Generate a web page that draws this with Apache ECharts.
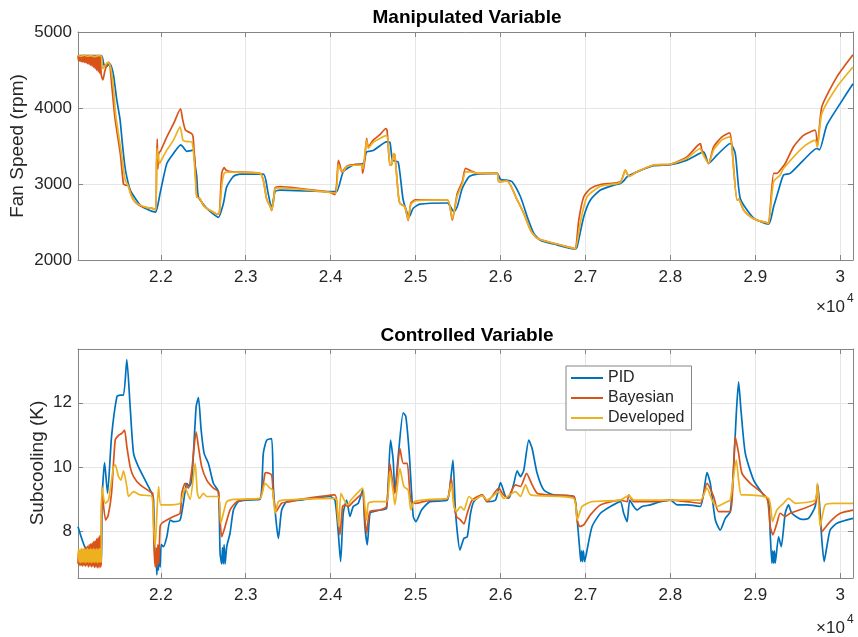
<!DOCTYPE html>
<html>
<head>
<meta charset="utf-8">
<script src="https://cdn.jsdelivr.net/npm/echarts@6/dist/echarts.min.js"></script>
<style>html,body{margin:0;padding:0;background:#fff}#c{width:858px;height:637px}</style>
</head>
<body>
<div id="c"></div>
<script>
// ---- data ----
const seriesNames = ['PID', 'Bayesian', 'Developed'];
const xTicks = [22000, 23000, 24000, 25000, 26000, 27000, 28000, 29000, 30000];
const fanTicks = [2000, 3000, 4000, 5000];
const scTicks = [8, 10, 12];

const fanPID = [[21025,4690],[21300,4690],[21330,4570],[21360,4545],[21395,4580],[21420,4540],[21445,4420],[21480,4120],[21520,3850],[21545,3560],[21575,3250],[21600,3090],[21640,2920],[21700,2810],[21760,2720],[21835,2670],[21900,2640],[21940,2630],[21992,2880],[22071,3270],[22148,3400],[22235,3515],[22260,3490],[22306,3430],[22380,3445],[22404,3250],[22423,3100],[22443,2830],[22541,2680],[22600,2620],[22678,2560],[22737,2745],[22776,2963],[22855,3100],[22933,3130],[23207,3130],[23260,2900],[23305,2680],[23345,2900],[23403,2920],[23991,2900],[24070,2900],[24148,3160],[24266,3250],[24384,3270],[24423,3420],[24501,3440],[24658,3555],[24697,3550],[24728,3314],[24795,3290],[24854,2790],[24925,2570],[24972,2680],[25050,2735],[25373,2750],[25451,2635],[25490,2700],[25549,2940],[25628,3095],[25726,3130],[25961,3140],[26000,3060],[26078,3050],[26137,3030],[26235,2832],[26314,2570],[26392,2350],[26470,2260],[26627,2210],[26882,2145],[26902,2175],[26980,2570],[27058,2790],[27176,2920],[27333,2985],[27411,3007],[27450,3040],[27490,3095],[27607,3160],[27803,3240],[28000,3255],[28195,3314],[28391,3423],[28450,3270],[28548,3380],[28705,3533],[28764,3400],[28823,2810],[28980,2550],[29156,2473],[29215,2700],[29274,2920],[29332,3117],[29410,3140],[29567,3314],[29724,3467],[29755,3450],[29842,3774],[29999,4058],[30150,4320]];

const fanBayes = [[21025,4690],[21030,4620],[21039,4690],[21048,4615],[21057,4690],[21066,4610],[21075,4690],[21084,4605],[21093,4690],[21102,4600],[21111,4690],[21120,4595],[21129,4690],[21138,4585],[21147,4690],[21156,4575],[21165,4690],[21174,4565],[21183,4690],[21192,4550],[21201,4690],[21210,4535],[21219,4690],[21228,4515],[21237,4690],[21246,4495],[21255,4690],[21264,4475],[21273,4690],[21282,4455],[21290,4690],[21298,4440],[21318,4370],[21340,4480],[21365,4570],[21385,4600],[21400,4570],[21424,4280],[21463,3842],[21522,3408],[21560,3000],[21580,2987],[21619,2975],[21659,2833],[21700,2760],[21760,2710],[21835,2690],[21900,2680],[21940,2660],[21950,3300],[21958,3590],[21965,3200],[21975,3400],[22000,3440],[22071,3620],[22149,3790],[22232,3990],[22255,3860],[22290,3710],[22360,3665],[22380,3620],[22405,3200],[22425,2830],[22460,2810],[22500,2720],[22540,2680],[22600,2640],[22670,2600],[22690,2620],[22717,3140],[22745,3215],[22770,3180],[22850,3160],[23168,3140],[23207,3050],[23247,2800],[23290,2700],[23305,2650],[23330,2800],[23345,2950],[23403,2965],[23600,2945],[23991,2890],[24050,2860],[24070,3000],[24090,3310],[24109,3250],[24130,3160],[24188,3230],[24227,3250],[24364,3260],[24376,3140],[24400,3300],[24423,3600],[24443,3490],[24501,3577],[24580,3650],[24650,3730],[24665,3700],[24697,3250],[24717,3250],[24740,3400],[24756,3380],[24795,2875],[24815,2745],[24874,2700],[24913,2520],[24944,2745],[25000,2790],[25373,2790],[25432,2525],[25490,2875],[25549,3030],[25588,3205],[25647,3175],[25726,3140],[25961,3140],[25980,3030],[26078,3040],[26196,2790],[26274,2613],[26353,2394],[26431,2285],[26627,2220],[26862,2153],[26882,2145],[26921,2525],[26980,2832],[27058,2940],[27176,2994],[27411,3030],[27470,3183],[27510,3100],[27607,3160],[27803,3250],[28000,3260],[28195,3357],[28352,3530],[28370,3450],[28450,3270],[28509,3490],[28607,3620],[28697,3672],[28720,3550],[28784,2790],[28803,2800],[28862,2657],[28941,2570],[29019,2525],[29136,2490],[29156,2480],[29215,3140],[29254,3140],[29293,3183],[29352,3270],[29450,3490],[29567,3640],[29704,3708],[29731,3490],[29783,4015],[29960,4409],[30150,4700]];

const fanDev = [[21025,4690],[21060,4680],[21100,4695],[21140,4680],[21180,4690],[21220,4675],[21260,4690],[21300,4680],[21318,4520],[21377,4600],[21404,4560],[21440,4300],[21470,3900],[21530,3450],[21580,3050],[21610,2990],[21650,2850],[21700,2760],[21760,2720],[21835,2690],[21900,2680],[21940,2660],[21955,3470],[21968,3380],[21985,3270],[22000,3300],[22071,3445],[22149,3577],[22227,3752],[22260,3577],[22290,3560],[22365,3555],[22400,3200],[22423,2830],[22460,2810],[22500,2720],[22540,2680],[22600,2640],[22670,2600],[22690,2620],[22720,3000],[22745,3140],[22780,3155],[23168,3140],[23207,3050],[23247,2800],[23290,2700],[23305,2655],[23330,2800],[23345,2940],[23403,2950],[23600,2935],[23991,2890],[24060,2880],[24090,3260],[24109,3200],[24148,3160],[24188,3230],[24364,3250],[24380,3200],[24423,3577],[24443,3470],[24501,3550],[24658,3640],[24697,3250],[24717,3250],[24740,3400],[24756,3380],[24795,2875],[24815,2745],[24874,2700],[24913,2530],[24944,2730],[25000,2780],[25373,2790],[25432,2545],[25490,2840],[25549,3000],[25588,3160],[25647,3160],[25726,3140],[25961,3140],[25980,3030],[26078,3040],[26196,2790],[26274,2613],[26353,2394],[26431,2285],[26627,2220],[26862,2153],[26882,2145],[26941,2503],[27019,2832],[27176,2970],[27411,3020],[27470,3183],[27510,3100],[27607,3160],[27803,3250],[28000,3260],[28195,3340],[28352,3467],[28370,3420],[28450,3270],[28509,3450],[28607,3580],[28697,3620],[28720,3520],[28784,2790],[28803,2800],[28862,2657],[28941,2570],[29019,2525],[29136,2490],[29156,2480],[29215,3030],[29293,3117],[29332,3205],[29567,3490],[29704,3577],[29731,3490],[29783,3927],[29960,4277],[30150,4540]];

const scPID = [[21025,8.15],[21110,7.5],[21200,7.3],[21290,7.1],[21300,7.0],[21310,9.1],[21338,10.14],[21373,9.19],[21420,10.95],[21483,12.19],[21520,12.24],[21561,12.24],[21600,13.34],[21639,11.88],[21679,10.43],[21737,10.01],[21835,9.5],[21894,9.19],[21914,9.0],[21933,7.02],[21945,7.3],[21953,6.66],[21962,7.2],[21972,6.8],[21982,7.5],[21992,6.9],[22005,7.6],[22031,7.53],[22071,7.84],[22110,8.36],[22149,8.31],[22227,8.36],[22286,9.24],[22306,9.5],[22337,9.4],[22365,9.6],[22416,11.88],[22443,12.16],[22475,11.15],[22510,10.43],[22560,10.12],[22619,9.5],[22678,9.24],[22698,7.33],[22717,7.0],[22727,7.5],[22737,7.0],[22745,7.6],[22757,7.0],[22776,7.53],[22815,7.95],[22855,8.67],[22913,8.93],[23011,8.98],[23168,9.0],[23207,10.43],[23247,10.84],[23305,10.89],[23325,9.4],[23356,8.36],[23384,7.79],[23423,8.67],[23482,8.93],[23639,8.98],[23991,9.09],[24050,8.98],[24090,7.95],[24117,7.07],[24148,8.57],[24188,8.98],[24227,8.47],[24266,8.78],[24325,8.88],[24376,9.29],[24403,8.16],[24431,7.59],[24462,8.57],[24501,8.62],[24580,8.67],[24658,8.72],[24705,10.84],[24736,10.22],[24756,9.24],[24795,10.33],[24854,11.69],[24885,11.57],[24925,10.43],[24972,8.47],[25003,8.31],[25070,8.67],[25168,8.93],[25373,8.98],[25412,9.6],[25440,10.22],[25471,8.57],[25522,7.43],[25569,7.79],[25608,7.84],[25647,8.57],[25686,8.93],[25784,9.14],[25843,8.93],[25941,8.98],[26000,9.52],[26059,9.09],[26098,9.04],[26157,9.5],[26196,9.89],[26235,9.71],[26274,9.91],[26333,10.84],[26372,10.58],[26431,9.81],[26510,9.29],[26627,9.14],[26862,9.09],[26902,8.36],[26933,7.43],[26945,7.07],[26955,7.4],[26965,7.07],[26975,7.4],[26990,7.07],[27019,7.43],[27078,8.16],[27176,8.57],[27294,8.78],[27411,8.93],[27450,8.57],[27490,8.31],[27521,8.98],[27568,8.78],[27607,8.67],[27666,8.78],[27764,8.83],[27882,8.93],[28000,8.98],[28078,8.83],[28195,8.83],[28352,8.78],[28431,9.83],[28470,9.5],[28529,8.36],[28587,8.05],[28646,8.41],[28705,8.62],[28745,10.03],[28776,11.67],[28803,12.65],[28831,11.77],[28882,10.43],[28980,9.6],[29097,9.14],[29156,8.98],[29175,7.95],[29195,7.02],[29205,7.4],[29215,7.02],[29225,7.4],[29234,7.02],[29274,7.84],[29305,7.53],[29352,8.57],[29391,8.83],[29430,8.57],[29548,8.38],[29626,8.41],[29705,8.78],[29736,9.45],[29783,7.74],[29810,7.07],[29842,7.53],[29881,8.05],[29960,8.26],[30150,8.41]];

const scBayes = [[21025,7.0],[21030,7.35],[21039,6.95],[21048,7.4],[21057,6.95],[21066,7.42],[21075,6.93],[21084,7.45],[21093,6.95],[21102,7.5],[21111,6.92],[21120,7.52],[21129,6.95],[21138,7.55],[21147,6.9],[21156,7.6],[21165,6.93],[21174,7.62],[21183,6.9],[21192,7.65],[21201,6.92],[21210,7.7],[21219,6.88],[21228,7.72],[21237,6.9],[21246,7.78],[21255,6.87],[21264,7.82],[21273,6.88],[21282,7.88],[21290,6.9],[21298,7.0],[21306,9.3],[21350,8.36],[21380,8.5],[21420,9.19],[21463,10.84],[21502,10.99],[21541,11.05],[21573,11.15],[21600,10.64],[21639,10.01],[21679,9.71],[21757,9.45],[21874,9.24],[21905,9.19],[21920,7.53],[21935,6.9],[21945,7.5],[21955,6.9],[21965,7.6],[21975,7.0],[21992,8.16],[22012,8.26],[22071,8.36],[22149,8.47],[22227,8.57],[22247,9.19],[22286,9.5],[22325,9.35],[22365,9.91],[22416,11.1],[22443,10.64],[22482,10.01],[22541,9.6],[22619,9.35],[22678,9.24],[22698,8.36],[22717,7.84],[22757,8.16],[22815,8.67],[22894,8.93],[23011,9.0],[23168,9.03],[23227,9.81],[23247,9.83],[23305,9.76],[23325,9.09],[23356,8.62],[23423,8.88],[23521,8.93],[23639,9.0],[24050,9.14],[24078,8.57],[24109,7.9],[24140,8.78],[24168,8.83],[24207,8.78],[24266,8.93],[24376,9.19],[24403,8.36],[24423,7.95],[24462,8.62],[24580,8.67],[24658,8.78],[24697,10.12],[24736,9.4],[24756,9.19],[24815,10.58],[24854,10.12],[24901,10.12],[24944,8.93],[25003,8.88],[25168,8.98],[25373,9.03],[25420,9.66],[25451,8.88],[25482,8.47],[25529,8.36],[25569,8.24],[25608,8.57],[25667,8.98],[25784,9.14],[25843,8.93],[25980,9.35],[26020,9.19],[26078,9.04],[26176,9.45],[26235,9.4],[26306,9.81],[26372,9.45],[26431,9.19],[26549,9.14],[26862,9.09],[26902,8.36],[26933,8.16],[26980,8.21],[27058,8.52],[27176,8.83],[27411,8.98],[27490,8.93],[27510,9.14],[27568,8.93],[27803,8.93],[28000,8.98],[28195,8.93],[28352,8.88],[28431,9.5],[28509,9.09],[28568,8.62],[28705,8.62],[28764,10.95],[28803,10.43],[28843,9.81],[28941,9.5],[29136,9.04],[29175,8.16],[29207,7.9],[29254,8.26],[29293,8.57],[29352,8.47],[29410,8.57],[29704,8.88],[29731,9.45],[29783,8.0],[29881,8.31],[29999,8.57],[30150,8.67]];

const scDev = [[21025,7.2],[21030,7.45],[21039,7.05],[21048,7.45],[21057,7.03],[21066,7.48],[21075,7.05],[21084,7.45],[21093,7.05],[21102,7.47],[21111,7.03],[21120,7.45],[21129,7.05],[21138,7.48],[21147,7.04],[21156,7.45],[21165,7.05],[21174,7.47],[21183,7.03],[21192,7.45],[21201,7.05],[21210,7.48],[21219,7.04],[21228,7.45],[21237,7.05],[21246,7.47],[21255,7.03],[21264,7.45],[21273,7.05],[21282,7.48],[21290,7.05],[21298,7.1],[21306,9.4],[21345,8.88],[21384,8.98],[21443,10.01],[21463,10.07],[21502,9.71],[21530,9.6],[21561,9.89],[21600,9.4],[21620,9.09],[21679,9.24],[21757,9.14],[21894,9.09],[21914,8.26],[21933,7.53],[21973,9.4],[22000,8.83],[22071,8.83],[22227,8.88],[22286,9.35],[22345,9.0],[22404,10.12],[22431,9.19],[22455,9.03],[22502,9.19],[22541,9.09],[22678,9.09],[22706,8.26],[22737,8.57],[22776,8.93],[22855,9.0],[23168,9.03],[23227,9.5],[23286,9.35],[23317,9.29],[23345,8.57],[23384,8.93],[23443,8.98],[24050,9.03],[24070,8.98],[24094,8.16],[24121,9.19],[24160,8.98],[24200,8.83],[24238,8.98],[24376,9.35],[24403,8.78],[24423,8.36],[24443,8.88],[24501,8.93],[24658,8.93],[24697,9.86],[24736,9.24],[24756,8.83],[24815,9.96],[24862,9.4],[24913,9.29],[24944,8.67],[24984,8.93],[25168,9.0],[25373,9.03],[25420,9.5],[25451,8.78],[25482,8.62],[25529,8.78],[25569,8.67],[25628,9.09],[25686,8.98],[25784,9.12],[25843,8.98],[25980,9.24],[26039,9.03],[26176,9.24],[26235,9.09],[26294,9.45],[26353,9.14],[26862,9.03],[26902,8.36],[26960,8.78],[27078,8.93],[27411,8.98],[27510,9.12],[27568,8.98],[28352,8.98],[28431,9.35],[28490,8.98],[28548,8.78],[28666,8.93],[28705,8.98],[28776,10.22],[28803,9.6],[28834,9.14],[28900,9.14],[29156,9.03],[29203,8.31],[29254,8.67],[29332,8.88],[29391,9.03],[29470,8.88],[29704,8.98],[29731,9.5],[29763,8.16],[29822,8.83],[29920,8.88],[30150,8.88]];

// ---- chart ----
const FONT = "'Liberation Sans', Arial, Helvetica, sans-serif";
const TXT = '#262626';
const BOX = '#858585';
const GRIDC = '#e6e6e6';
const COLORS = ['#0072BD', '#D95319', '#EDB120'];
const X_MIN = 21025, X_MAX = 30150;

function xAxisBottom(gi) {
  return {
    type: 'value', gridIndex: gi, min: X_MIN, max: X_MAX, position: 'bottom',
    axisLine: { show: true, onZero: false, lineStyle: { color: BOX, width: 1 } },
    axisTick: { show: true, inside: true, length: 5, customValues: xTicks, lineStyle: { color: BOX } },
    axisLabel: { show: true, customValues: xTicks, margin: 9, color: TXT, fontSize: 17, fontFamily: FONT,
      formatter: v => String(+(v / 10000).toFixed(1)) },
    splitLine: { show: true, lineStyle: { color: GRIDC, width: 1 } }
  };
}
function xAxisTop(gi) {
  return {
    type: 'value', gridIndex: gi, min: X_MIN, max: X_MAX, position: 'top',
    axisLine: { show: true, onZero: false, lineStyle: { color: BOX, width: 1 } },
    axisTick: { show: true, inside: true, length: 5, customValues: xTicks, lineStyle: { color: BOX } },
    axisLabel: { show: false }, splitLine: { show: false }
  };
}
function yAxisLeft(gi, min, max, ticks) {
  return {
    type: 'value', gridIndex: gi, min: min, max: max, position: 'left',
    axisLine: { show: true, onZero: false, lineStyle: { color: BOX, width: 1 } },
    axisTick: { show: true, inside: true, length: 5, customValues: ticks, lineStyle: { color: BOX } },
    axisLabel: { show: true, customValues: ticks, margin: 6, color: TXT, fontSize: 17, fontFamily: FONT,
      formatter: v => String(v) },
    splitLine: { show: true, lineStyle: { color: GRIDC, width: 1 } }
  };
}
function yAxisRight(gi, min, max, ticks) {
  return {
    type: 'value', gridIndex: gi, min: min, max: max, position: 'right',
    axisLine: { show: true, onZero: false, lineStyle: { color: BOX, width: 1 } },
    axisTick: { show: true, inside: true, length: 5, customValues: ticks, lineStyle: { color: BOX } },
    axisLabel: { show: false }, splitLine: { show: false }
  };
}
function line(name, data, xi, yi, ci) {
  return {
    type: 'line', name: name, data: data, xAxisIndex: xi, yAxisIndex: yi,
    symbol: 'none', showSymbol: false, smooth: 0.2, clip: true,
    lineStyle: { color: COLORS[ci], width: 1.7 }, itemStyle: { color: COLORS[ci] },
    emphasis: { disabled: true }, z: 2 + ci
  };
}

const chart = echarts.init(document.getElementById('c'), null, { renderer: 'canvas' });
chart.setOption({
  animation: false,
  backgroundColor: '#ffffff',
  grid: [
    { left: 78, top: 32, width: 775, height: 228, containLabel: false },
    { left: 78, top: 349, width: 775, height: 229, containLabel: false }
  ],
  xAxis: [xAxisBottom(0), xAxisTop(0), xAxisBottom(1), xAxisTop(1)],
  yAxis: [
    yAxisLeft(0, 2000, 5000, fanTicks), yAxisRight(0, 2000, 5000, fanTicks),
    yAxisLeft(1, 6.56, 13.67, scTicks), yAxisRight(1, 6.56, 13.67, scTicks)
  ],
  legend: {
    data: seriesNames.map((n, i) => ({ name: n, icon: 'rect', itemStyle: { color: COLORS[i] } })),
    orient: 'vertical', left: 566, top: 366,
    itemWidth: 32, itemHeight: 2, itemGap: 0, selectedMode: false,
    padding: [2, 7, 2, 5], backgroundColor: '#ffffff', borderColor: BOX, borderWidth: 1,
    textStyle: { color: TXT, fontSize: 16, fontFamily: FONT, lineHeight: 20 }
  },
  series: [
    line(seriesNames[0], fanPID, 0, 0, 0),
    line(seriesNames[1], fanBayes, 0, 0, 1),
    line(seriesNames[2], fanDev, 0, 0, 2),
    line(seriesNames[0], scPID, 2, 2, 0),
    line(seriesNames[1], scBayes, 2, 2, 1),
    line(seriesNames[2], scDev, 2, 2, 2)
  ],
  graphic: [
    { type: 'text', x: 467, y: 18, style: { text: 'Manipulated Variable', align: 'center', verticalAlign: 'middle', fill: '#000', font: "bold 19px " + FONT } },
    { type: 'text', x: 467, y: 336, style: { text: 'Controlled Variable', align: 'center', verticalAlign: 'middle', fill: '#000', font: "bold 19px " + FONT } },
    { type: 'text', x: 18, y: 146, rotation: Math.PI / 2, style: { text: 'Fan Speed (rpm)', align: 'center', verticalAlign: 'middle', fill: TXT, font: "19px " + FONT } },
    { type: 'text', x: 38, y: 463, rotation: Math.PI / 2, style: { text: 'Subcooling (K)', align: 'center', verticalAlign: 'middle', fill: TXT, font: "19px " + FONT } },
    { type: 'text', x: 816, y: 307, style: { text: '\u00d710', align: 'left', verticalAlign: 'middle', fill: TXT, font: "17px " + FONT } },
    { type: 'text', x: 847, y: 299, style: { text: '4', align: 'left', verticalAlign: 'middle', fill: TXT, font: "12px " + FONT } },
    { type: 'text', x: 816, y: 628, style: { text: '\u00d710', align: 'left', verticalAlign: 'middle', fill: TXT, font: "17px " + FONT } },
    { type: 'text', x: 847, y: 620, style: { text: '4', align: 'left', verticalAlign: 'middle', fill: TXT, font: "12px " + FONT } }
  ]
});
</script>
</body>
</html>
